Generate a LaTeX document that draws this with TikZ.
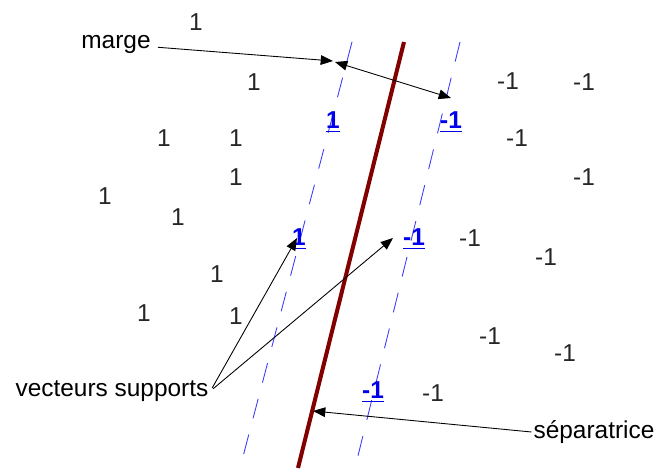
\documentclass[tikz,border=0pt]{standalone}
\usepackage{fontspec}
\setmainfont{Liberation Sans}
\usetikzlibrary{positioning,arrows.meta}
\definecolor{sepred}{RGB}{130,0,0}
\definecolor{svblue}{RGB}{0,0,235}
\definecolor{dashblue}{RGB}{60,60,255}

\begin{document}
\begin{tikzpicture}[x=0.02cm,y=-0.02cm,
    lbl/.style={font=\fontsize{13.9}{16}\selectfont,inner sep=1pt},
    pt/.style={lbl,text=black!85},
    sv/.style={inner sep=1pt,text=svblue,font=\fontsize{13.9}{16}\selectfont\bfseries},
    fleche/.style={-{Triangle[length=7pt,width=5.5pt]},line width=0.5pt},
    marg/.style={dashblue,line width=0.5pt,dash pattern=on 11.5pt off 9.5pt}]
    \useasboundingbox (0,0) rectangle (657,469);

    % marges et separatrice
    \draw[marg] (352,42) -- (240,468);
    \draw[marg] (460,42) -- (355,468);
    \draw[sepred,line width=2.3pt] (404,42) -- (298,468);

    % classe +1
    \node[pt] (p1) at (196,22) {1};
    \node[pt] (p2) at (254,82) {1};
    \node[pt] (p3) at (164,138) {1};
    \node[pt] (p4) at (236,138) {1};
    \node[pt] (p5) at (236,177) {1};
    \node[pt] (p6) at (105,196) {1};
    \node[pt] (p7) at (178,217) {1};
    \node[pt] (p8) at (217,274) {1};
    \node[pt] (p9) at (144,313) {1};
    \node[pt] (p10) at (236,316) {1};

    % classe -1
    \node[pt] (n1) at (508,81) {-1};
    \node[pt] (n2) at (584,82) {-1};
    \node[pt] (n3) at (517,138) {-1};
    \node[pt] (n4) at (584,177) {-1};
    \node[pt] (n5) at (470,238) {-1};
    \node[pt] (n6) at (546,257) {-1};
    \node[pt] (n7) at (490,336) {-1};
    \node[pt] (n8) at (565,353) {-1};
    \node[pt] (n9) at (433,393) {-1};

    % vecteurs supports
    \node[sv] (s1) at (333,122) {\underline{1}};
    \node[sv] (s2) at (451,122) {\underline{-1}};
    \node[sv] (s3) at (299,239) {\underline{1}};
    \node[sv] (s4) at (414,239) {\underline{-1}};
    \node[sv] (s5) at (373,392) {\underline{-1}};

    % legendes
    \node[lbl] (marge) at (116,44) {marge};
    \node[lbl] (vs) at (112,391) {vecteurs supports};
    \node[lbl] (sep) at (594,432) {séparatrice};

    \coordinate (m0) at (333,61);
    \coordinate (ma) at (335,62);
    \coordinate (mb) at (451,98);
    \coordinate (t1) at (297,238);
    \coordinate (t2) at (393,238);
    \coordinate (t3) at (313,411);

    \draw[fleche,shorten <=3pt] (marge) -- (m0);
    \draw[fleche,{Triangle[length=7pt,width=5.5pt]}-{Triangle[length=7pt,width=5.5pt]}] (ma) -- (mb);
    \draw[fleche,shorten <=2pt] (vs.east) -- (t1);
    \draw[fleche,shorten <=2pt] (vs.east) -- (t2);
    \draw[fleche] (sep.west) -- (t3);
\end{tikzpicture}
\end{document}
